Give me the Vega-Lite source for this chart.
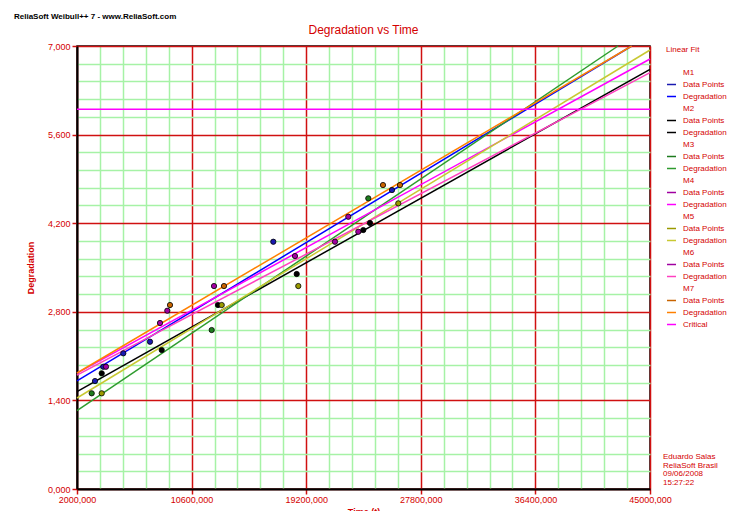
{
  "$schema": "https://vega.github.io/schema/vega-lite/v6.json",
  "width": 573,
  "height": 443,
  "autosize": {"type": "none"},
  "padding": {"left": 77, "top": 46, "right": 79, "bottom": 22},
  "background": "white",
  "config": {
    "font": "Liberation Sans",
    "view": {"stroke": "black", "strokeWidth": 1.5}
  },
  "title": {
    "text": "ReliaSoft Weibull++ 7 - www.ReliaSoft.com",
    "anchor": "start",
    "frame": "group",
    "dx": -63,
    "offset": 3,
    "fontSize": 8,
    "fontWeight": "bold",
    "color": "black"
  },
  "datasets": {
    "fits": [
      {"series": "M1 Degradation", "time": 2000, "degradation": 1.707},
      {"series": "M1 Degradation", "time": 43627, "degradation": 7.0},
      {"series": "M2 Degradation", "time": 2000, "degradation": 1.538},
      {"series": "M2 Degradation", "time": 45000, "degradation": 6.632},
      {"series": "M3 Degradation", "time": 2000, "degradation": 1.24},
      {"series": "M3 Degradation", "time": 42600, "degradation": 7.0},
      {"series": "M4 Degradation", "time": 2000, "degradation": 1.83},
      {"series": "M4 Degradation", "time": 45000, "degradation": 6.795},
      {"series": "M5 Degradation", "time": 2000, "degradation": 1.438},
      {"series": "M5 Degradation", "time": 45000, "degradation": 6.937},
      {"series": "M6 Degradation", "time": 2000, "degradation": 1.8},
      {"series": "M6 Degradation", "time": 45000, "degradation": 6.578},
      {"series": "M7 Degradation", "time": 2000, "degradation": 1.833},
      {"series": "M7 Degradation", "time": 43627, "degradation": 7.0}
    ],
    "crit": [
      {"series": "Critical", "time": 2000, "degradation": 6},
      {"series": "Critical", "time": 45000, "degradation": 6}
    ],
    "obs": [
      {"series": "M1 Data Points", "time": 3351, "degradation": 1.706},
      {"series": "M1 Data Points", "time": 3974, "degradation": 1.932},
      {"series": "M1 Data Points", "time": 5474, "degradation": 2.144},
      {"series": "M1 Data Points", "time": 7478, "degradation": 2.327},
      {"series": "M1 Data Points", "time": 16731, "degradation": 3.907},
      {"series": "M1 Data Points", "time": 25638, "degradation": 4.724},
      {"series": "M2 Data Points", "time": 3854, "degradation": 1.828},
      {"series": "M2 Data Points", "time": 8356, "degradation": 2.196},
      {"series": "M2 Data Points", "time": 12581, "degradation": 2.907},
      {"series": "M2 Data Points", "time": 18487, "degradation": 3.397},
      {"series": "M2 Data Points", "time": 23484, "degradation": 4.092},
      {"series": "M2 Data Points", "time": 23987, "degradation": 4.203},
      {"series": "M3 Data Points", "time": 3103, "degradation": 1.512},
      {"series": "M3 Data Points", "time": 12108, "degradation": 2.512},
      {"series": "M3 Data Points", "time": 23860, "degradation": 4.593},
      {"series": "M4 Data Points", "time": 4176, "degradation": 1.932},
      {"series": "M4 Data Points", "time": 8776, "degradation": 2.817},
      {"series": "M4 Data Points", "time": 18359, "degradation": 3.681},
      {"series": "M4 Data Points", "time": 22358, "degradation": 4.302},
      {"series": "M5 Data Points", "time": 3854, "degradation": 1.512},
      {"series": "M5 Data Points", "time": 12859, "degradation": 2.907},
      {"series": "M5 Data Points", "time": 18607, "degradation": 3.207},
      {"series": "M5 Data Points", "time": 26111, "degradation": 4.514},
      {"series": "M6 Data Points", "time": 8228, "degradation": 2.623},
      {"series": "M6 Data Points", "time": 12281, "degradation": 3.207},
      {"series": "M6 Data Points", "time": 21360, "degradation": 3.907},
      {"series": "M6 Data Points", "time": 23109, "degradation": 4.065},
      {"series": "M7 Data Points", "time": 8979, "degradation": 2.907},
      {"series": "M7 Data Points", "time": 13031, "degradation": 3.207},
      {"series": "M7 Data Points", "time": 24962, "degradation": 4.803},
      {"series": "M7 Data Points", "time": 26238, "degradation": 4.803}
    ]
  },
  "layer": [
    {
      "data": {"name": "fits"},
      "mark": {"type": "line", "strokeWidth": 1.5},
      "encoding": {
        "x": {
          "field": "time", "type": "quantitative",
          "scale": {"domain": [2000, 45000], "nice": false, "zero": false},
          "axis": {
            "values": [2000, 3720, 5440, 7160, 8880, 10600, 12320, 14040, 15760, 17480, 19200, 20920, 22640, 24360, 26080, 27800, 29520, 31240, 32960, 34680, 36400, 38120, 39840, 41560, 43280, 45000],
            "tickCount": 60,
            "labelExpr": "(datum.value-2000) % 8600 == 0 ? replace(format(datum.value,'.3f'),'.',',') : ''",
            "grid": true,
            "gridColor": {"condition": {"test": "(datum.value-2000) % 8600 == 0", "value": "#D01010"}, "value": "#A6F2A6"},
            "gridWidth": 1.5,
            "ticks": true, "tickColor": "#D01010", "tickWidth": 1.5, "tickSize": 5,
            "tickOpacity": {"condition": {"test": "(datum.value-2000) % 8600 == 0", "value": 1}, "value": 0},
            "domain": true, "domainColor": "black", "domainWidth": 2,
            "labelColor": "#D40000", "labelFontSize": 9, "labelPadding": 1,
            "labelFlush": false, "labelOverlap": false,
            "title": "Time (t)", "titleColor": "#D40000", "titleFontSize": 9, "titleFontWeight": "bold", "titlePadding": 3
          }
        },
        "y": {
          "field": "degradation", "type": "quantitative",
          "scale": {"domain": [0, 7], "nice": false, "zero": true},
          "axis": {
            "values": [0, 0.28, 0.56, 0.84, 1.12, 1.4, 1.68, 1.96, 2.24, 2.52, 2.8, 3.08, 3.36, 3.64, 3.92, 4.2, 4.48, 4.76, 5.04, 5.32, 5.6, 5.88, 6.16, 6.44, 6.72, 7],
            "tickCount": 60,
            "labelExpr": "abs(datum.value/1.4 - round(datum.value/1.4)) < 0.001 ? replace(format(datum.value,'.3f'),'.',',') : ''",
            "grid": true,
            "gridColor": {"condition": {"test": "abs(datum.value/1.4 - round(datum.value/1.4)) < 0.001", "value": "#D01010"}, "value": "#A6F2A6"},
            "gridWidth": 1.5,
            "ticks": true, "tickColor": "#D01010", "tickWidth": 1.5, "tickSize": 5,
            "tickOpacity": {"condition": {"test": "abs(datum.value/1.4 - round(datum.value/1.4)) < 0.001", "value": 1}, "value": 0},
            "domain": true, "domainColor": "black", "domainWidth": 2,
            "labelColor": "#D40000", "labelFontSize": 9, "labelPadding": 2,
            "labelFlush": false, "labelOverlap": false,
            "title": "Degradation", "titleColor": "#D40000", "titleFontSize": 9, "titleFontWeight": "bold", "titlePadding": 12
          }
        },
        "color": {
          "field": "series", "type": "nominal",
          "scale": {
            "domain": ["M1", "M1 Data Points", "M1 Degradation", "M2", "M2 Data Points", "M2 Degradation", "M3", "M3 Data Points", "M3 Degradation", "M4", "M4 Data Points", "M4 Degradation", "M5", "M5 Data Points", "M5 Degradation", "M6", "M6 Data Points", "M6 Degradation", "M7", "M7 Data Points", "M7 Degradation", "Critical"],
            "range": ["transparent", "#1A1AB0", "#0000FF", "transparent", "#000000", "#000000", "transparent", "#1E7B1E", "#2E9B2E", "transparent", "#A000A0", "#FF00FF", "transparent", "#9A9A00", "#C8C832", "transparent", "#A000A0", "#FF40C0", "transparent", "#C86400", "#FF8000", "#FF00FF"]
          },
          "legend": {
            "title": "Linear Fit",
            "orient": "right",
            "offset": 13,
            "titleColor": "#D40000", "titleFontSize": 8, "titleFontWeight": "normal", "titlePadding": 13,
            "labelFontSize": 8, "labelColor": "#D40000", "labelLimit": 200, "labelOffset": 6,
            "rowPadding": 2,
            "symbolSize": 81, "symbolType": "stroke", "symbolStrokeWidth": 1.5,
            "labelExpr": "indexof(datum.value,'Data')>=0 ? 'Data Points' : indexof(datum.value,'Degradation')>=0 ? 'Degradation' : datum.value"
          }
        }
      }
    },
    {
      "data": {"name": "crit"},
      "mark": {"type": "line", "strokeWidth": 1.5},
      "encoding": {
        "x": {"field": "time", "type": "quantitative"},
        "y": {"field": "degradation", "type": "quantitative"},
        "color": {"field": "series", "type": "nominal"}
      }
    },
    {
      "data": {"name": "obs"},
      "mark": {"type": "point", "filled": true, "size": 28, "stroke": "black", "strokeWidth": 0.8, "opacity": 1},
      "encoding": {
        "x": {"field": "time", "type": "quantitative"},
        "y": {"field": "degradation", "type": "quantitative"},
        "color": {"field": "series", "type": "nominal"}
      }
    },
    {
      "data": {"values": [{"note": "Degradation vs Time"}]},
      "mark": {"type": "text", "align": "center", "baseline": "middle", "fontSize": 12, "color": "#D40000", "dy": -16},
      "encoding": {
        "x": {"datum": 23500, "type": "quantitative"},
        "y": {"datum": 7, "type": "quantitative"},
        "text": {"field": "note"}
      }
    },
    {
      "data": {"values": [{"note": "Eduardo Salas\nReliaSoft Brasil\n09/06/2008\n15:27:22"}]},
      "mark": {"type": "text", "align": "left", "baseline": "top", "fontSize": 8, "lineHeight": 8.5, "lineBreak": "\n", "color": "#D40000", "dx": 13, "dy": -36},
      "encoding": {
        "x": {"datum": 45000, "type": "quantitative"},
        "y": {"datum": 0, "type": "quantitative"},
        "text": {"field": "note"}
      }
    }
  ]
}
